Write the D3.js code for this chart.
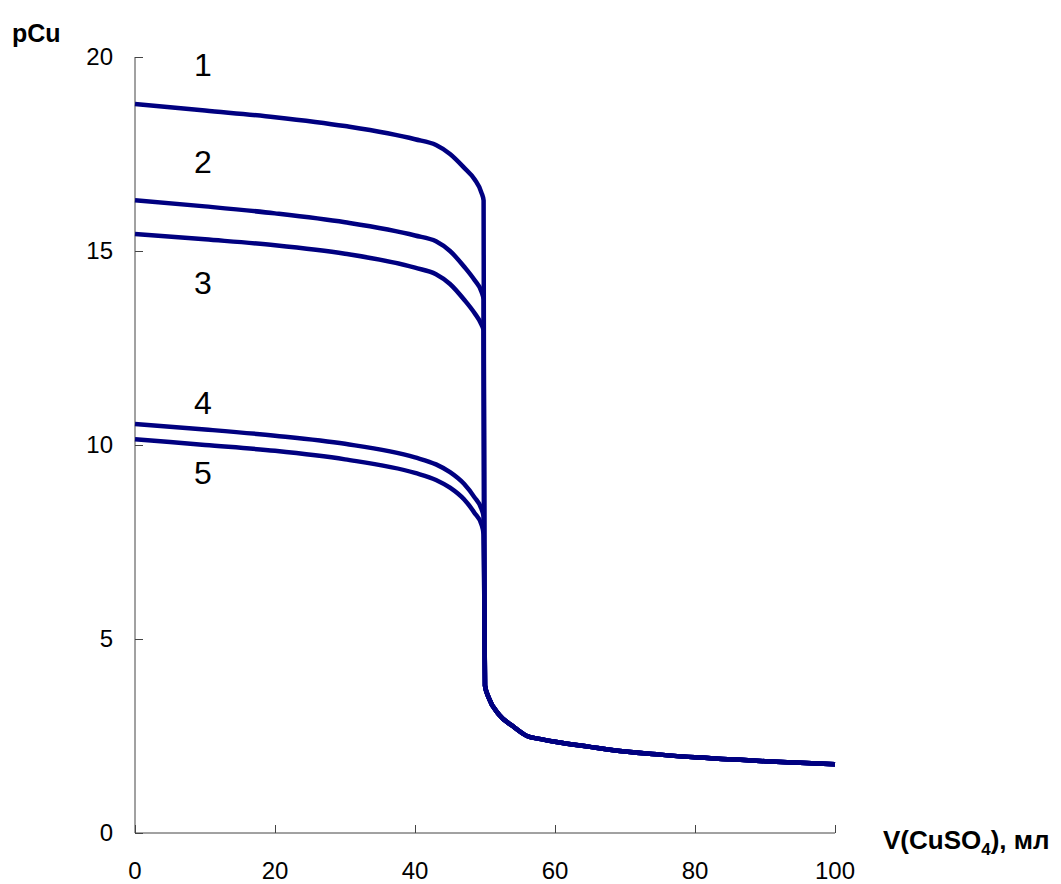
<!DOCTYPE html>
<html>
<head>
<meta charset="utf-8">
<script src="https://cdn.jsdelivr.net/npm/d3@7"></script>
<style>
  body { margin: 0; background: #fff; }
  text { font-family: Arial, "Liberation Sans", sans-serif; }
</style>
</head>
<body>
<div id="container"></div>
<script>
// titration curves pCu vs V(CuSO4)

const curveNames = ["1", "2", "3", "4", "5"];

// volumes before the equivalence point (shared by all curves)
const vBefore = [0, 10, 20, 30, 40, 43, 45, 47, 48.5, 49.5, 49.8];
const pCu1 = [18.79, 18.62, 18.45, 18.22, 17.88, 17.73, 17.5, 17.15, 16.85, 16.5, 16.3];
const pCu2 = [16.31, 16.15, 15.97, 15.74, 15.4, 15.25, 15.0, 14.6, 14.25, 13.95, 13.75];
const pCu3 = [15.44, 15.3, 15.15, 14.93, 14.57, 14.4, 14.15, 13.75, 13.4, 13.1, 12.95];
const pCu4 = [10.54, 10.4, 10.24, 10.03, 9.68, 9.5, 9.3, 9.0, 8.65, 8.35, 8.15];
const pCu5 = [10.15, 10.0, 9.85, 9.63, 9.28, 9.1, 8.9, 8.6, 8.25, 7.95, 7.7];

// after the equivalence point everything falls on one line
const vAfter = [49.9, 50, 50.5, 52, 54, 56, 58, 60, 65, 70, 75, 80, 85, 90, 95, 100];
const pCuAfter = [6.0, 3.8, 3.5, 3.05, 2.75, 2.5, 2.42, 2.35, 2.22, 2.1, 2.02, 1.95, 1.9, 1.85, 1.81, 1.77];

const xTicks = [0, 20, 40, 60, 80, 100];
const yTicks = [0, 5, 10, 15, 20];

const allSeries = [pCu1, pCu2, pCu3, pCu4, pCu5];

const width = 1061, height = 884;
const margin = { top: 57, left: 135, right: 226, bottom: 51 };
const plotW = width - margin.left - margin.right,
      plotH = height - margin.top - margin.bottom;

const svg = d3.select("#container").append("svg")
  .attr("width", width)
  .attr("height", height);

const g = svg.append("g")
  .attr("transform", `translate(${margin.left},${margin.top})`);

const x = d3.scaleLinear().domain([0, 100]).range([0, plotW]);
const y = d3.scaleLinear().domain([0, 20]).range([plotH, 0]);

// axes with inward ticks
const yAxis = g.append("g")
  .call(d3.axisRight(y).tickValues(yTicks).tickSize(8).tickFormat(""));
const xAxis = g.append("g")
  .attr("transform", `translate(0,${plotH})`)
  .call(d3.axisTop(x).tickValues(xTicks).tickSize(8).tickFormat(""));

[yAxis, xAxis].forEach(a => {
  a.select(".domain").remove();
  a.selectAll("line").attr("stroke", "#444").attr("stroke-width", 1);
});
g.append("line").attr("x1", 0).attr("x2", 0).attr("y1", 0).attr("y2", plotH)
  .attr("stroke", "#444");
g.append("line").attr("x1", 0).attr("x2", plotW).attr("y1", plotH).attr("y2", plotH)
  .attr("stroke", "#444");

// tick labels
g.selectAll(".ylab").data(yTicks).join("text")
  .attr("class", "ylab")
  .attr("x", -22)
  .attr("y", d => y(d))
  .attr("dy", "0.35em")
  .attr("text-anchor", "end")
  .attr("font-size", "24px")
  .text(d => d);

g.selectAll(".xlab").data(xTicks).join("text")
  .attr("class", "xlab")
  .attr("x", d => x(d))
  .attr("y", plotH + 46)
  .attr("text-anchor", "middle")
  .attr("font-size", "24px")
  .text(d => d);

// axis titles
svg.append("text")
  .attr("x", 12).attr("y", 42)
  .attr("font-size", "25px").attr("font-weight", "bold")
  .text("pCu");

const xt = svg.append("text")
  .attr("x", 883).attr("y", 849)
  .attr("font-size", "26px").attr("font-weight", "bold");
xt.append("tspan").text("V(CuSO");
xt.append("tspan").attr("font-size", "17px").attr("dy", "6").text("4");
xt.append("tspan").attr("dy", "-6").text("), мл");

// curves (monotone keeps the steep drop from overshooting)
const line = d3.line()
  .x(d => x(d[0]))
  .y(d => y(d[1]))
  .curve(d3.curveMonotoneX);

allSeries.forEach((vals, i) => {
  const pts = vBefore.map((v, j) => [v, vals[j]])
    .concat(vAfter.map((v, j) => [v, pCuAfter[j]]));
  g.append("path")
    .datum(pts)
    .attr("fill", "none")
    .attr("stroke", "#000080")
    .attr("stroke-width", 4.5)
    .attr("stroke-linejoin", "round")
    .attr("d", line);
});

// curve number labels (placed above / below their lines)
const labelPos = [[9.7, 19.8], [9.7, 17.3], [9.7, 14.2], [9.7, 11.1], [9.7, 9.3]];
g.selectAll(".clab").data(curveNames).join("text")
  .attr("class", "clab")
  .attr("x", (d, i) => x(labelPos[i][0]))
  .attr("y", (d, i) => y(labelPos[i][1]))
  .attr("dy", "0.36em")
  .attr("text-anchor", "middle")
  .attr("font-size", "32px")
  .text(d => d);
</script>
</body>
</html>
